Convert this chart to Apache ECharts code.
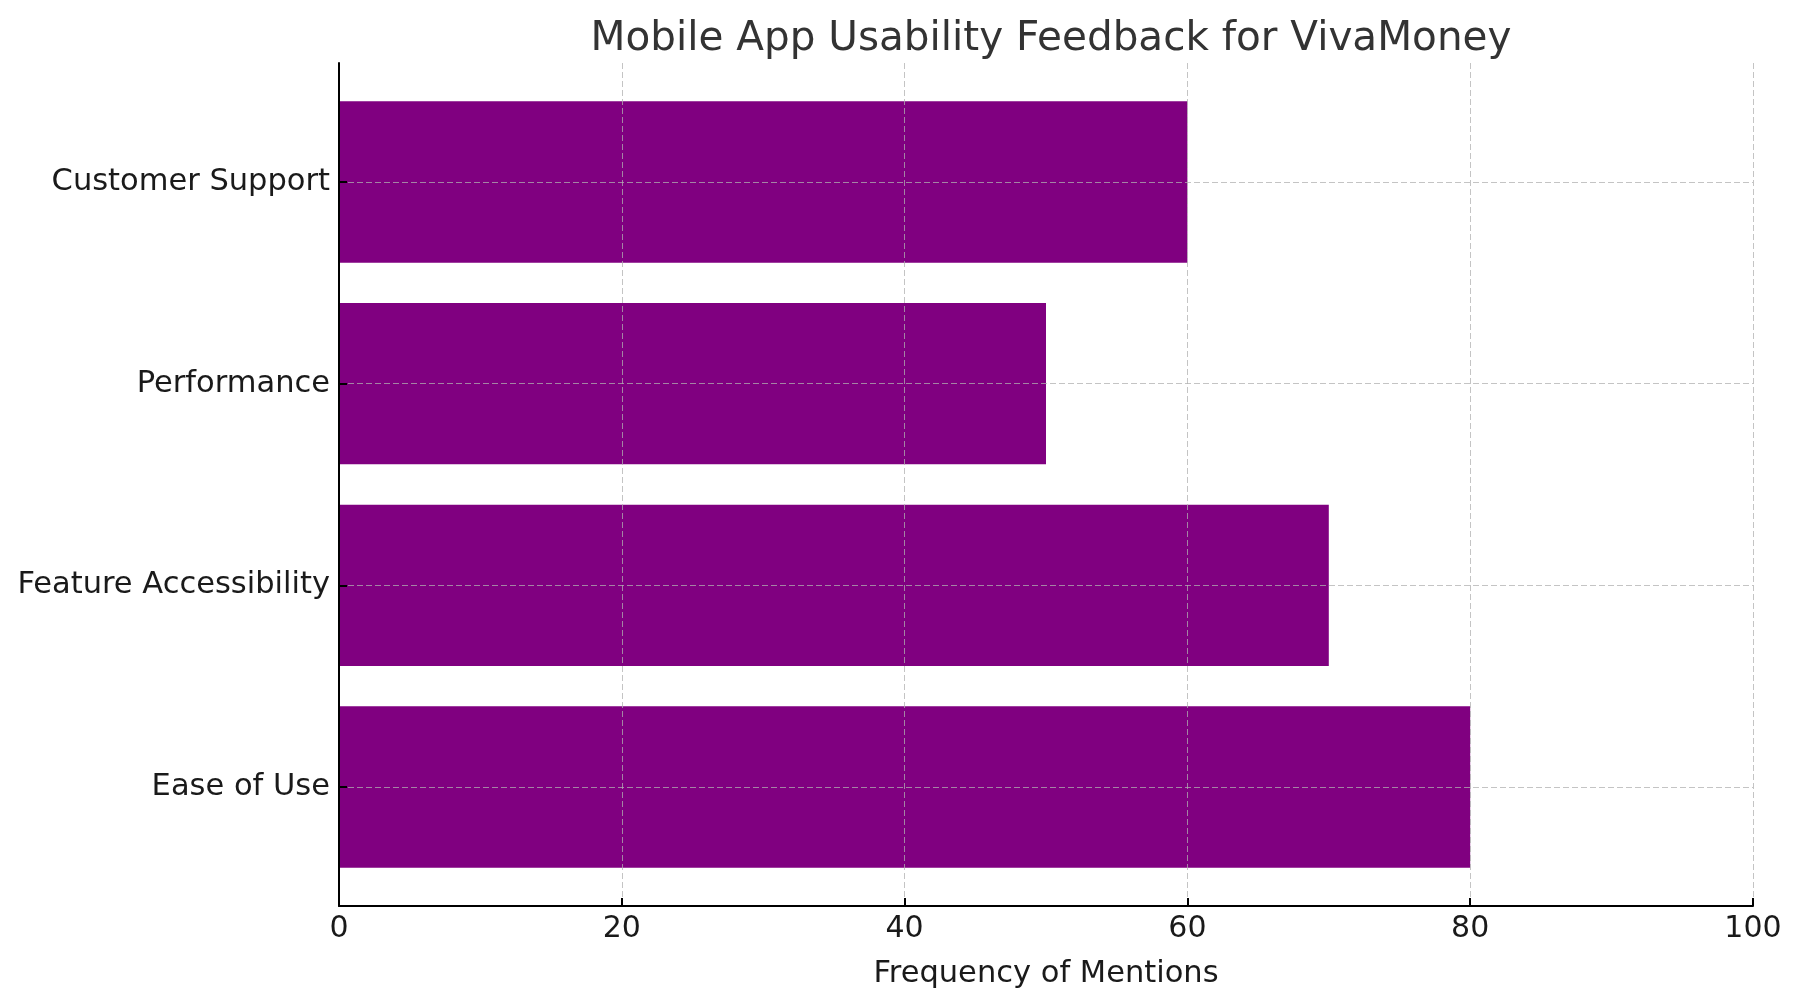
<!DOCTYPE html>
<html>
<head>
<meta charset="utf-8">
<title>Mobile App Usability Feedback for VivaMoney</title>
<script src="https://cdn.jsdelivr.net/npm/echarts@6/dist/echarts.min.js"></script>
<style>
  html, body { margin: 0; padding: 0; background: #fff; }
  #chart { width: 1800px; height: 1004px; }
</style>
</head>
<body>
<div id="chart"></div>
<script>
// data, bottom to top as drawn
var categories = ['Ease of Use', 'Feature Accessibility', 'Performance', 'Customer Support'];
var mentions = [80, 70, 50, 60];
var xTicks = [0, 20, 40, 60, 80, 100];

(function() {
    var font = 'DejaVu Sans';
    var ink = '#1a1a1a';
    var purple = '#800080';
    var gridColor = 'rgba(176,176,176,0.75)';

    // plot box
    var left = 339, right = 1800 - 1753, top = 63, bottom = 1004 - 906;
    var plotH = 1004 - top - bottom;
    // matplotlib style margins: bars span -0.4..3.4 plus 5% padding
    var lo = -0.4, hi = categories.length - 1 + 0.4;
    var pad = (hi - lo) * 0.05;
    var unit = plotH / (hi - lo + 2 * pad);
    var inset = (pad + 0.4) * unit;

    var chart = echarts.init(document.getElementById('chart'), null, { renderer: 'canvas' });

    var option = {
        backgroundColor: '#ffffff',
        animation: false,
        title: {
            text: 'Mobile App Usability Feedback for VivaMoney',
            left: left + (1800 - left - right) / 2,
            textAlign: 'center',
            top: 14,
            textStyle: { fontFamily: font, fontSize: 40.5, fontWeight: 'normal', color: '#333333' }
        },
        grid: [
            { left: left, right: right, top: top, bottom: bottom },
            { left: left, right: right, top: top + inset, bottom: bottom + inset }
        ],
        xAxis: [{
            gridIndex: 0,
            type: 'value',
            min: xTicks[0],
            max: xTicks[xTicks.length - 1],
            interval: xTicks[1] - xTicks[0],
            z: 5,
            name: 'Frequency of Mentions',
            nameLocation: 'middle',
            nameGap: 53,
            nameTextStyle: { fontFamily: font, fontSize: 30.5, color: ink },
            axisLine: { lineStyle: { color: '#000', width: 2 } },
            axisTick: { inside: true, length: 8, lineStyle: { color: '#000', width: 2 } },
            axisLabel: { fontFamily: font, fontSize: 30, color: ink, margin: 8 },
            splitLine: { show: true, lineStyle: { color: gridColor, width: 1, type: [6, 3] } }
        }, {
            gridIndex: 1,
            type: 'value',
            min: xTicks[0],
            max: xTicks[xTicks.length - 1],
            show: false
        }],
        yAxis: [{
            gridIndex: 0,
            type: 'value',
            min: 0,
            max: 1,
            z: 5,
            axisLine: { show: true, lineStyle: { color: '#000', width: 2 } },
            axisTick: { show: false },
            axisLabel: { show: false },
            splitLine: { show: false }
        }, {
            gridIndex: 1,
            type: 'category',
            data: categories,
            boundaryGap: false,
            z: 5,
            axisLine: { show: false },
            axisTick: { show: true, inside: true, length: 8, lineStyle: { color: '#000', width: 2 } },
            axisLabel: { fontFamily: font, fontSize: 30.5, color: ink, margin: 9 },
            splitLine: { show: true, lineStyle: { color: gridColor, width: 1, type: [6, 3] } }
        }],
        series: [{
            name: 'Mentions',
            type: 'bar',
            xAxisIndex: 1,
            yAxisIndex: 1,
            data: mentions,
            barWidth: 0.8 * unit,
            clip: false,
            itemStyle: { color: purple }
        }]
    };

    chart.setOption(option);
    window.addEventListener('resize', function() {
        chart.resize();
    });
})();
</script>
</body>
</html>
